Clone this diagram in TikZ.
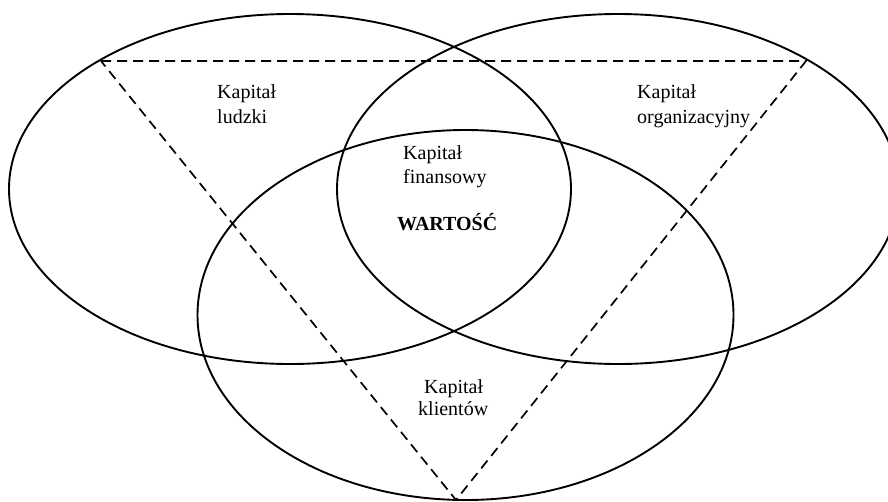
\documentclass[tikz,border=0pt]{standalone}
\usepackage{fontspec}
\setmainfont{Liberation Serif}
\begin{document}
\begin{tikzpicture}[x=1pt,y=-1pt,
  setline/.style={line width=1.9pt},
  triline/.style={line width=1.7pt,dash pattern=on 10pt off 6pt},
  lbl/.style={anchor=base west,inner sep=0pt,font=\fontsize{20pt}{25pt}\selectfont}]
\useasboundingbox (0,0) rectangle (888,501);
\clip (0,0) rectangle (888,501);
% sets
\draw[setline] (290,189) ellipse [x radius=281pt, y radius=175pt];
\draw[setline] (618,189) ellipse [x radius=281pt, y radius=175pt];
\draw[setline] (465.5,315) ellipse [x radius=268pt, y radius=185pt];
% dashed triangle
\coordinate (tl) at (101,61);
\coordinate (tr) at (806,61);
\coordinate (bt) at (456,500);
\draw[triline] (tl) -- (tr) -- (bt) -- cycle;
% labels
\node[lbl] (l1) at (217,98) {Kapitał};
\node[lbl] (l2) at (217,123) {ludzki};
\node[lbl] (o1) at (637,98) {Kapitał};
\node[lbl] (o2) at (637,123) {organizacyjny};
\node[lbl] (f1) at (403,159) {Kapitał};
\node[lbl] (f2) at (403,183) {finansowy};
\node[lbl,font=\fontsize{20pt}{25pt}\selectfont\bfseries] (w) at (397,230) {WARTOŚĆ};
\node[lbl] (k1) at (424,393) {Kapitał};
\node[lbl] (k2) at (418,415) {klientów};
\end{tikzpicture}
\end{document}
